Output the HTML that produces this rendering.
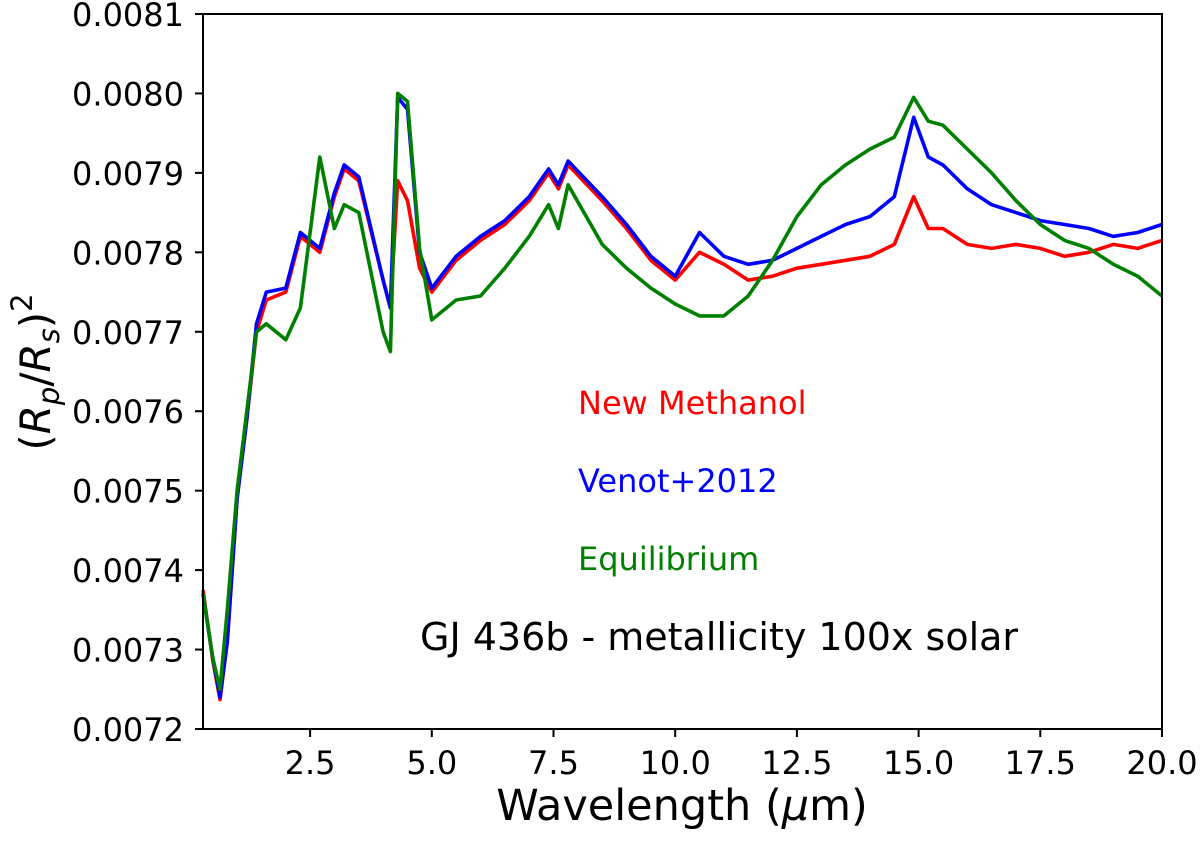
<!DOCTYPE html>
<html><head><meta charset="utf-8"><style>
html,body{margin:0;padding:0;background:#fff;}
svg text{font-family:"DejaVu Sans","Liberation Sans",sans-serif;}
</style></head><body>
<svg id="chart" width="1200" height="838" xmlns="http://www.w3.org/2000/svg">
<g id="marks"></g>
<g id="axes"></g>
</svg>
<script>
const wavelengths=[0.3,0.5,0.65,0.8,1.0,1.2,1.4,1.6,2.0,2.3,2.7,3.0,3.2,3.5,4.0,4.15,4.3,4.5,4.75,5.0,5.5,6.0,6.5,7.0,7.4,7.6,7.8,8.5,9.0,9.5,10.0,10.5,11.0,11.5,12.0,12.5,13.0,13.5,14.0,14.5,14.9,15.2,15.5,16.0,16.5,17.0,17.5,18.0,18.5,19.0,19.5,20.0];
const newMethanol=[73.75,72.87,72.37,73.1,74.9,75.9,77.0,77.4,77.5,78.2,78.0,78.7,79.05,78.9,77.65,77.3,78.9,78.65,77.8,77.5,77.9,78.15,78.35,78.65,79.0,78.8,79.1,78.65,78.3,77.9,77.65,78.0,77.85,77.65,77.7,77.8,77.85,77.9,77.95,78.1,78.7,78.3,78.3,78.1,78.05,78.1,78.05,77.95,78.0,78.1,78.05,78.15];
const venot2012=[73.7,72.9,72.4,73.1,74.9,75.9,77.1,77.5,77.55,78.25,78.05,78.75,79.1,78.95,77.65,77.3,79.95,79.8,78.0,77.55,77.95,78.2,78.4,78.7,79.05,78.85,79.15,78.7,78.35,77.95,77.7,78.25,77.95,77.85,77.9,78.05,78.2,78.35,78.45,78.7,79.7,79.2,79.1,78.8,78.6,78.5,78.4,78.35,78.3,78.2,78.25,78.35];
const equilibrium=[73.7,72.9,72.5,73.5,75.0,76.0,77.0,77.1,76.9,77.3,79.2,78.3,78.6,78.5,77.0,76.75,80.0,79.9,78.05,77.15,77.4,77.45,77.8,78.2,78.6,78.3,78.85,78.1,77.8,77.55,77.35,77.2,77.2,77.45,77.9,78.45,78.85,79.1,79.3,79.45,79.95,79.65,79.6,79.3,79.0,78.65,78.35,78.15,78.05,77.85,77.7,77.45];
const xTicks=[2.5,5.0,7.5,10.0,12.5,15.0,17.5,20.0];
const yTicks=[72,73,74,75,76,77,78,79,80,81];

const NS='http://www.w3.org/2000/svg';
const L=203,R=1162,T=14,B=729,XMIN=0.3,XMAX=20,YMIN=72,YMAX=81;
function xs(w){return L+(w-XMIN)/(XMAX-XMIN)*(R-L);}
function ys(v){return B-(v-YMIN)/(YMAX-YMIN)*(B-T);}
function mk(tag,attrs,parent){const e=document.createElementNS(NS,tag);for(const k in attrs)e.setAttribute(k,attrs[k]);parent.appendChild(e);return e;}
const marks=document.getElementById('marks'),axes=document.getElementById('axes');

function drawSeries(vals,color,name){
  let d='';
  vals.forEach((v,i)=>{d+=(i?'L':'M')+xs(wavelengths[i]).toFixed(1)+','+ys(v).toFixed(1);});
  const p=mk('path',{d:d,fill:'none',stroke:color,'stroke-width':3.6,'stroke-linejoin':'round'},marks);
  
  
}
drawSeries(newMethanol,'#ff0000','new-methanol-line');
drawSeries(venot2012,'#0000ff','venot-2012-line');
drawSeries(equilibrium,'#008000','equilibrium-line');

const frame=mk('rect',{x:L,y:T,width:R-L,height:B-T,fill:'none',stroke:'#000','stroke-width':2},axes);



xTicks.forEach(t=>{
  const x=xs(t);
  mk('line',{x1:x,x2:x,y1:B,y2:B+8,stroke:'#000','stroke-width':2},axes);
  const tx=mk('text',{x:x,y:B+45,'font-size':32,'text-anchor':'middle'},axes);
  tx.textContent=t.toFixed(1);
  
  
});
yTicks.forEach(t=>{
  const y=ys(t);
  mk('line',{x1:L-8,x2:L,y1:y,y2:y,stroke:'#000','stroke-width':2},axes);
  const tx=mk('text',{x:184,y:y+12,'font-size':32,'text-anchor':'end'},axes);
  tx.textContent=(t/10000).toFixed(4);
  
  
});
</script>
<svg style="position:absolute;left:0;top:0" width="1200" height="838" xmlns="http://www.w3.org/2000/svg">
<text x="682" y="820" font-size="43" text-anchor="middle" font-family="DejaVu Sans, Liberation Sans, sans-serif">Wavelength (<tspan font-style="italic">μ</tspan>m)</text>
<text transform="translate(50,372) rotate(-90)" font-size="42" text-anchor="middle" font-family="DejaVu Sans, Liberation Sans, sans-serif">(<tspan font-style="italic">R</tspan><tspan font-style="italic" font-size="29" dy="9">p</tspan><tspan dy="-9">/</tspan><tspan font-style="italic">R</tspan><tspan font-style="italic" font-size="29" dy="9">s</tspan><tspan dy="-9">)</tspan><tspan font-size="29" dy="-18">2</tspan></text>
<text x="578" y="414" font-size="32" fill="#ff0000" font-family="DejaVu Sans, Liberation Sans, sans-serif">New Methanol</text>
<text x="578" y="492" font-size="32" fill="#0000ff" font-family="DejaVu Sans, Liberation Sans, sans-serif">Venot+2012</text>
<text x="578" y="570" font-size="32" fill="#008000" font-family="DejaVu Sans, Liberation Sans, sans-serif">Equilibrium</text>
<text x="420" y="650" font-size="38" fill="#000" font-family="DejaVu Sans, Liberation Sans, sans-serif">GJ 436b - metallicity 100x solar</text>
</svg>
</body></html>
